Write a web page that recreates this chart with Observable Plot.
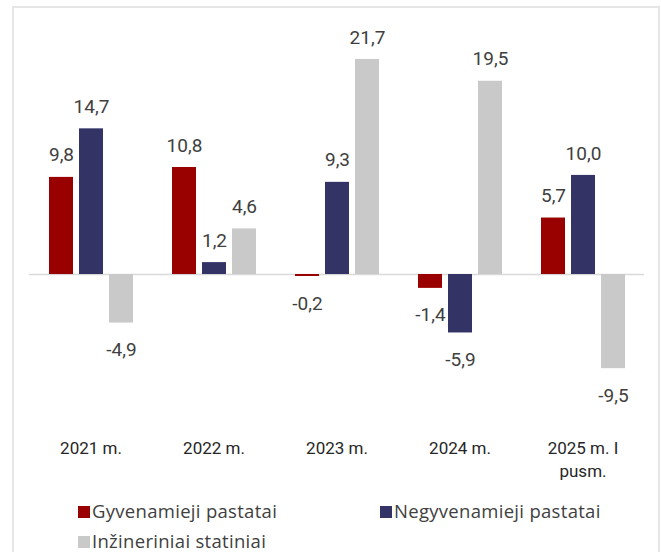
<!DOCTYPE html>
<html>
<head>
<meta charset="utf-8">
<script src="https://cdn.jsdelivr.net/npm/d3@7"></script>
<script src="https://cdn.jsdelivr.net/npm/@observablehq/plot@0.6"></script>
<style>
  html, body { margin: 0; padding: 0; background: #fff; }
  #wrap { position: relative; width: 661px; height: 552px; overflow: hidden; font-family: Roboto, "Noto Sans", sans-serif; }
  #frame { position: absolute; left: 12px; top: 6px; width: 648px; height: 600px; border: 2px solid #e6e6e6; box-sizing: border-box; }
  #chart { position: absolute; left: 0; top: 0; }
  .leg { position: absolute; font-family: "Open Sans", Roboto, sans-serif; font-size: 18.5px; letter-spacing: 0.3px; color: #404040; white-space: nowrap; line-height: 18px; }
  .sw { position: absolute; width: 12px; height: 12px; }
</style>
</head>
<body>
<div id="wrap">
  <div id="frame"></div>
  <div id="chart"></div>
  <div id="legend"></div>
</div>
<script>
const years = ["2021 m.", "2022 m.", "2023 m.", "2024 m.", "2025 m. I\npusm."];
const series = ["Gyvenamieji pastatai", "Negyvenamieji pastatai", "Inžineriniai statiniai"];
const colors = ["#990000", "#333366", "#c9c9c9"];
const gyvenamieji = [9.8, 10.8, -0.2, -1.4, 5.7];
const negyvenamieji = [14.7, 1.2, 9.3, -5.9, 10.0];
const inzineriniai = [-4.9, 4.6, 21.7, 19.5, -9.5];

const valuesBySeries = [gyvenamieji, negyvenamieji, inzineriniai];
const data = [];
years.forEach((yr, i) => {
  series.forEach((s, j) => {
    data.push({year: yr, series: s, value: valuesBySeries[j][i]});
  });
});
const fmt = v => v.toFixed(1).replace(".", ",");
const pos = data.filter(d => d.value >= 0);
const neg = data.filter(d => d.value < 0);

const labelOpts = {
  fx: "year", x: "series", y: "value",
  text: d => fmt(d.value),
  lineAnchor: "middle",
  fontSize: 19,
  fill: "#404040"
};

const chart = Plot.plot({
  width: 661,
  height: 500,
  marginLeft: 28,
  marginRight: 16,
  marginTop: 56,
  marginBottom: 126.9,
  style: {fontFamily: "Roboto, 'Noto Sans', sans-serif", background: "transparent"},
  fx: {domain: years, padding: 0},
  x: {domain: series, paddingInner: 0.21, paddingOuter: 0.6, axis: null},
  y: {domain: [-10, 22], axis: null},
  color: {domain: series, range: colors},
  marks: [
    Plot.ruleY([0], {stroke: "#d9d9d9", strokeWidth: 1.5}),
    Plot.barY(data, {fx: "year", x: "series", y: "value", fill: "series"}),
    Plot.text(pos, {...labelOpts, dy: -22}),
    Plot.text(neg, {...labelOpts, dy: 27}),
    Plot.axisFx({anchor: "bottom", tickSize: 0, tickPadding: 64, fontSize: 17, lineHeight: 1.35, fill: "#262626", label: null})
  ]
});
document.getElementById("chart").appendChild(chart);

// Legend (HTML)
const legendItems = [
  {name: series[0], color: colors[0], x: 78, y: 502},
  {name: series[1], color: colors[1], x: 380, y: 502},
  {name: series[2], color: colors[2], x: 78, y: 532}
];
const leg = document.getElementById("legend");
legendItems.forEach(it => {
  const sw = document.createElement("div");
  sw.className = "sw";
  sw.style.left = it.x + "px";
  sw.style.top = (it.y + 4) + "px";
  sw.style.background = it.color;
  leg.appendChild(sw);
  const t = document.createElement("div");
  t.className = "leg";
  t.style.left = (it.x + 14) + "px";
  t.style.top = it.y + "px";
  t.textContent = it.name;
  leg.appendChild(t);
});
</script>
</body>
</html>
